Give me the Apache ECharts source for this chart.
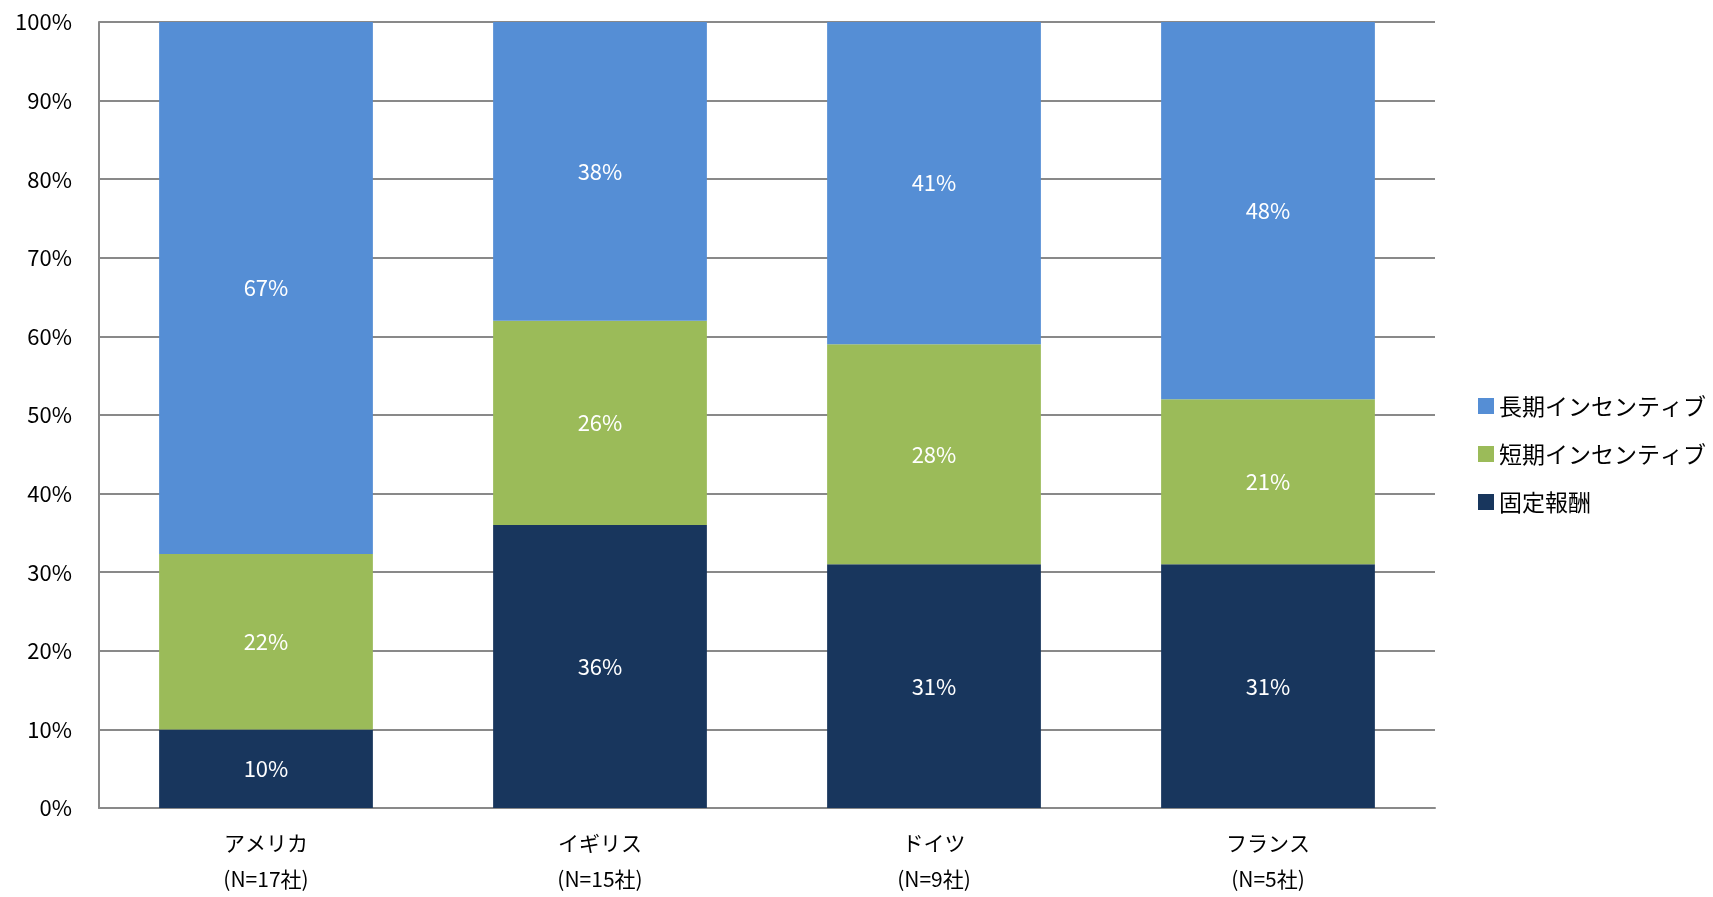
<!DOCTYPE html>
<html><head><meta charset="utf-8">
<script src="https://cdn.jsdelivr.net/npm/echarts@6/dist/echarts.min.js"></script>
<style>html,body{margin:0;padding:0;background:#fff}#c{width:1713px;height:897px}</style>
</head><body><div id="c"></div>
<script>
const categories = ['アメリカ\n(N=17社)', 'イギリス\n(N=15社)', 'ドイツ\n(N=9社)', 'フランス\n(N=5社)'];
const fixedPay = [10, 36, 31, 31];
const shortTerm = [22.3, 26, 28, 21];
const longTerm = [67.7, 38, 41, 48];
const seriesNames = ['固定報酬', '短期インセンティブ', '長期インセンティブ'];
const colors = ['#18365D', '#9BBB59', '#558ED5'];

const font = '"Noto Sans CJK JP", sans-serif';
const chart = echarts.init(document.getElementById('c'));
const mk = (name, data, color) => ({
  name, type: 'bar', stack: 'a', data, barCategoryGap: '36%',
  itemStyle: { color },
  label: { show: true, position: 'inside', color: '#fff', fontFamily: font, fontSize: 22,
           formatter: p => Math.floor(p.value) + '%' }
});
chart.setOption({
  animation: false,
  grid: { left: 99, right: 278, top: 22, bottom: 87 },
  legend: {
    orient: 'vertical', left: 1473, top: 389, itemWidth: 16, itemHeight: 16, itemGap: 24,
    data: ['長期インセンティブ', '短期インセンティブ', '固定報酬'],
    icon: 'rect',
    textStyle: { fontFamily: font, fontSize: 23, color: '#000', padding: [0, 0, 0, 0], lineHeight: 24 }
  },
  xAxis: {
    type: 'category', data: categories,
    axisLine: { lineStyle: { color: '#898989', width: 2 } },
    axisTick: { show: false },
    axisLabel: { fontFamily: font, fontSize: 21, color: '#000', lineHeight: 36, margin: 17 }
  },
  yAxis: {
    type: 'value', min: 0, max: 100, interval: 10,
    axisLine: { show: true, lineStyle: { color: '#898989', width: 2 } },
    axisTick: { show: false },
    splitLine: { lineStyle: { color: '#898989', width: 2 } },
    axisLabel: { fontFamily: font, fontSize: 22, color: '#000', margin: 27, formatter: '{value}%' }
  },
  series: [mk(seriesNames[0], fixedPay, colors[0]), mk(seriesNames[1], shortTerm, colors[1]), mk(seriesNames[2], longTerm, colors[2])]
});
</script></body></html>
